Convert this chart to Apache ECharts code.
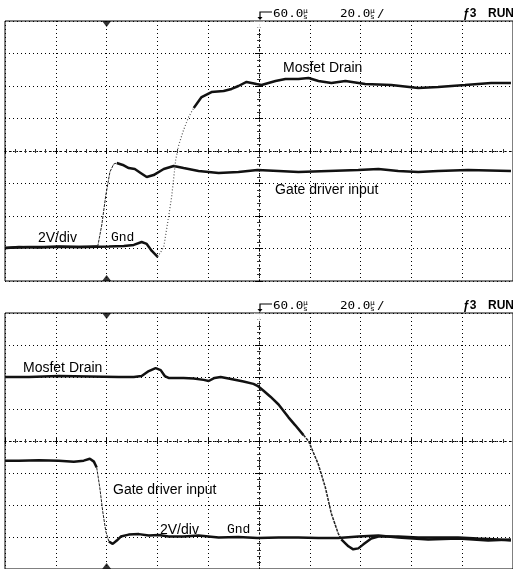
<!DOCTYPE html>
<html>
<head>
<meta charset="utf-8">
<title>Mosfet switching</title>
<script src="https://cdn.jsdelivr.net/npm/echarts@6/dist/echarts.min.js"></script>
<style>
  html, body { margin: 0; padding: 0; background: #fff; }
  #scope { width: 513px; height: 569px; }
</style>
</head>
<body>
<div id="scope"></div>
<script>
// time in µs from the trigger, volts relative to screen centre (2V/div)
const DELAY = 60
const TIME_DIV = 20
const VOLT_DIV = 2

// turn-on (top screen)
const topGateLow = [[-40, -5.97], [-34.5, -5.91], [-26.6, -5.94], [-18.8, -5.88], [-10.9, -5.91], [-3.5, -5.88]]
const topGateEdge = [[-3.5, -5.88], [-1.9, -4.55], [-0.3, -2.71], [1.3, -1.29], [2.8, -0.8], [4.0, -0.74]]
const topGateHigh = [[4.0, -0.74], [6.4, -0.86], [8.7, -1.05], [11.1, -1.11], [13.4, -1.35], [15.8, -1.6], [18.5, -1.48],
  [22.5, -1.11], [26.4, -0.92], [30.3, -1.05], [36.2, -1.23], [44.1, -1.35], [51.9, -1.29], [59.4, -1.17], [67.7, -1.23],
  [75.5, -1.29], [87.3, -1.23], [99.1, -1.17], [107.0, -1.11], [114.8, -1.23], [122.7, -1.29], [130.5, -1.23],
  [142.3, -1.17], [159.2, -1.23]]

const topDrainLow = [[-40, -5.97], [-30.6, -5.91], [-18.8, -5.91], [-7.0, -5.91], [0.9, -5.88], [6.8, -5.85],
  [10.7, -5.78], [13.8, -5.6], [15.8, -5.72], [17.8, -6.15], [20.1, -6.52]]
const topDrainEdge = [[20.1, -6.52], [22.5, -5.91], [24.4, -4.06], [25.6, -2.83], [27.2, -0.55], [28.4, 0.37],
  [30.3, 1.29], [32.3, 2.09], [34.3, 2.65]]
const topDrainHigh = [[34.3, 2.65], [37.4, 3.32], [41.3, 3.63], [46.1, 3.69], [49.2, 3.82], [51.9, 4.0], [55.1, 4.25],
  [59.0, 4.12], [61.0, 4.06], [66.5, 4.31], [70.4, 4.43], [75.5, 4.43], [79.5, 4.49], [83.4, 4.31], [88.5, 4.18],
  [94.0, 4.31], [101.8, 4.12], [112.1, 4.06], [122.7, 3.88], [130.5, 3.94], [141.1, 4.06], [151.4, 4.18], [159.2, 4.18]]

// turn-off (bottom screen)
const botDrainHigh = [[-40, 4.0], [-30.6, 4.0], [-18.8, 4.06], [-7.0, 4.03], [4.8, 4.0], [10.7, 4.0], [13.8, 4.06],
  [16.6, 4.37], [19.3, 4.55], [21.3, 4.43], [22.9, 4.06], [24.4, 3.94], [30.3, 3.94], [34.3, 3.91], [38.2, 3.82],
  [40.2, 3.75], [42.5, 3.94], [44.9, 4.0], [48.0, 3.91], [53.9, 3.72], [57.8, 3.57], [59.4, 3.45], [61.8, 3.14],
  [64.5, 2.77], [67.7, 2.28], [71.6, 1.48], [74.3, 0.98], [77.5, 0.37]]
const botDrainEdge = [[77.5, 0.37], [79.5, 0], [83.4, -1.48], [86.1, -2.89], [88.5, -4.55], [91.2, -5.78], [92.4, -6.15]]
const botDrainLow = [[92.4, -6.15], [95.2, -6.58], [97.1, -6.77], [99.1, -6.71], [101.1, -6.46], [104.2, -6.09],
  [107.0, -5.97], [114.8, -5.97], [122.7, -6.03], [130.5, -6.03], [138.4, -6.03], [146.2, -6.09], [154.1, -6.15],
  [159.2, -6.22]]

const botGateHigh = [[-40, -1.23], [-34.5, -1.23], [-26.6, -1.2], [-18.8, -1.23], [-12.9, -1.29], [-9.0, -1.23],
  [-6.6, -1.11], [-5.0, -1.29], [-3.9, -1.66]]
const botGateEdge = [[-3.9, -1.66], [-2.7, -2.89], [-1.5, -4.43], [-0.3, -5.66], [0.9, -6.28]]
const botGateLow = [[0.9, -6.28], [2.4, -6.43], [4.0, -6.22], [5.6, -5.97], [8.7, -5.85], [12.7, -5.82], [16.6, -5.91],
  [20.5, -5.88], [24.4, -5.97], [30.3, -5.97], [36.2, -5.91], [44.1, -6.03], [51.9, -6.0], [59.4, -6.06],
  [67.7, -6.03], [75.5, -6.03], [83.4, -6.06], [91.2, -6.06], [99.1, -5.97], [107.0, -5.91], [114.8, -6.03],
  [126.6, -6.15], [138.4, -6.09], [150.2, -6.22], [159.2, -6.15]]

const headerDelay = '60.0'
const headerScale = '20.0'
const TRIGGER_T = 0

const grids = [
  { left: 5, top: 21, width: 510, height: 260 },
  { left: 5, top: 313, width: 510, height: 260 }
]

const shift = pts => pts.map(p => [p[0] - DELAY, p[1]])

const gridAxis = (g, dim) => ({
  gridIndex: g,
  type: 'value',
  min: dim === 'x' ? -5 * TIME_DIV : -4 * VOLT_DIV,
  max: dim === 'x' ? 5 * TIME_DIV : 4 * VOLT_DIV,
  interval: dim === 'x' ? TIME_DIV : VOLT_DIV,
  axisLine: { show: false, onZero: false },
  axisTick: { show: false },
  axisLabel: { show: false },
  splitLine: { show: true, lineStyle: { color: '#000', width: 1, type: [1, 3] } }
})

// centre graticule with minor ticks on both sides
const centreAxis = (g, dim, inside) => ({
  gridIndex: g,
  type: 'value',
  position: dim === 'x' ? 'bottom' : 'left',
  min: dim === 'x' ? -5 * TIME_DIV : -4 * VOLT_DIV,
  max: dim === 'x' ? 5 * TIME_DIV : 4 * VOLT_DIV,
  interval: dim === 'x' ? TIME_DIV : VOLT_DIV,
  axisLine: { show: true, onZero: true, lineStyle: { color: '#000', width: 1, type: [1, 4] } },
  axisTick: { show: true, inside: inside, length: dim === 'x' ? 3 : 4, lineStyle: { color: '#000' } },
  minorTick: { show: true, splitNumber: 5, length: 2, lineStyle: { color: '#333' } },
  axisLabel: { show: false },
  splitLine: { show: false }
})

const xAxis = []
const yAxis = []
grids.forEach((gr, g) => {
  xAxis.push(gridAxis(g, 'x'), centreAxis(g, 'x', false), centreAxis(g, 'x', true))
  yAxis.push(gridAxis(g, 'y'), centreAxis(g, 'y', false), centreAxis(g, 'y', true))
})

const trace = (g, data, style) => ({
  type: 'line',
  xAxisIndex: g * 3,
  yAxisIndex: g * 3,
  data: shift(data),
  showSymbol: false,
  silent: true,
  clip: false,
  z: 5,
  lineStyle: style
})
const thick = { color: '#111', width: 2.5 }
const thin = { color: '#222', width: 1, type: [3, 1] }
const faint = { color: '#555', width: 1.2, type: [1, 2] }

const series = [
  trace(0, topGateLow, thick), trace(0, topGateEdge, thin), trace(0, topGateHigh, thick),
  trace(0, topDrainLow, thick), trace(0, topDrainEdge, faint), trace(0, topDrainHigh, thick),
  trace(1, botDrainHigh, thick), trace(1, botDrainEdge, { color: '#222', width: 1.5, type: [3, 1] }), trace(1, botDrainLow, thick),
  trace(1, botGateHigh, thick), trace(1, botGateEdge, thin), trace(1, botGateLow, thick)
]

// trigger and delay markers
grids.forEach((gr, g) => {
  series.push({
    type: 'scatter', xAxisIndex: g * 3, yAxisIndex: g * 3, silent: true, clip: false,
    itemStyle: { color: '#000' },
    data: [
      { value: [TRIGGER_T - DELAY, 4 * VOLT_DIV], symbol: 'triangle', symbolRotate: 180, symbolSize: [9, 6], symbolOffset: [0, 3] },
      { value: [TRIGGER_T - DELAY, -4 * VOLT_DIV], symbol: 'triangle', symbolSize: [9, 6], symbolOffset: [0, -3] },
      { value: [0, 4 * VOLT_DIV], symbol: 'emptyTriangle', symbolRotate: 180, symbolSize: [8, 6], symbolOffset: [0, 4],
        itemStyle: { color: '#fff', borderColor: '#000', borderWidth: 1 } }
    ]
  })
})

const label = (text, x, y, mono) => ({
  type: 'text', x: x, y: y, silent: true,
  style: {
    text: text, fill: '#000', verticalAlign: 'middle',
    font: mono ? '13px "Liberation Mono"' : '14px "Liberation Sans"'
  }
})

const lcd = (text, x, y, size, bold) => ({
  type: 'text', x: x, y: y, scaleX: 1.15, silent: true,
  style: { text: text, fill: '#000', verticalAlign: 'middle', font: (bold ? 'bold ' : '') + size + 'px "DejaVu Sans Mono"' }
})

const header = y => [
  { type: 'polyline', silent: true, shape: { points: [[272, y - 2], [260, y - 2], [260, y + 4]] }, style: { stroke: '#000', lineWidth: 1.2, fill: null } },
  { type: 'polygon', silent: true, shape: { points: [[257.5, y + 3], [262.5, y + 3], [260, y + 6]] }, style: { fill: '#000' } },
  lcd(headerDelay, 273, y, 11),
  lcd('µ', 303, y - 3, 7), lcd('s', 303, y + 3, 7),
  lcd(headerScale, 340, y, 11),
  lcd('µ', 370, y - 3, 7), lcd('s', 370, y + 3, 7),
  lcd('/', 377, y, 11),
  { type: 'text', x: 463, y: y, silent: true, style: { text: 'ƒ3', fill: '#000', verticalAlign: 'middle', font: 'bold 12px "Liberation Sans"' } },
  { type: 'text', x: 488, y: y, silent: true, style: { text: 'RUN', fill: '#000', verticalAlign: 'middle', font: 'bold 12px "Liberation Sans"' } }
]

const graphic = [].concat(
  header(14), header(306),
  label('Mosfet Drain', 283, 68), label('Gate driver input', 275, 190),
  label('2V/div', 38, 238), label('Gnd', 111, 238, true),
  label('Mosfet Drain', 23, 368), label('Gate driver input', 113, 490),
  label('2V/div', 160, 530), label('Gnd', 227, 530, true)
)

const chart = echarts.init(document.getElementById('scope'), null, { renderer: 'canvas' })
chart.setOption({
  animation: false,
  backgroundColor: '#fff',
  grid: grids.map(gr => Object.assign({ show: true, borderColor: '#000', borderWidth: 1, backgroundColor: 'transparent' }, gr)),
  xAxis: xAxis,
  yAxis: yAxis,
  series: series,
  graphic: graphic
})
</script>
</body>
</html>
